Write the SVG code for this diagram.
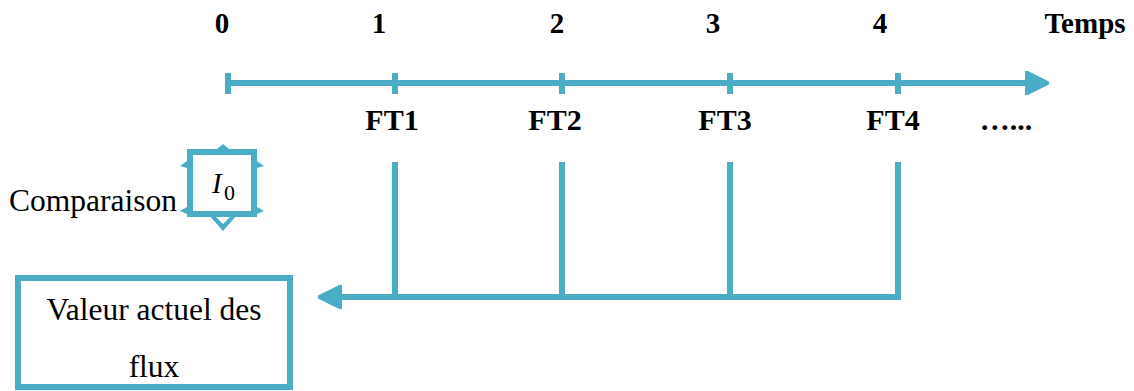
<svg xmlns="http://www.w3.org/2000/svg" width="1134" height="391" viewBox="0 0 1134 391">
  <style>
    .ln { stroke: #4BACC6; stroke-width: 6; fill: none; }
    .fill { fill: #4BACC6; stroke: none; }
  </style>
  <defs>
    <marker id="arr" viewBox="0 0 10 10" refX="2" refY="5" markerWidth="4" markerHeight="4" orient="auto" markerUnits="strokeWidth">
      <path d="M0,0 L10,5 L0,10 z" fill="#4BACC6" stroke="#4BACC6" stroke-linejoin="round" stroke-width="1"/>
    </marker>
  </defs>

  <!-- time scale labels -->
  <g id="time-labels" font-family="'Liberation Serif', 'Times New Roman', serif" font-size="29" font-weight="bold" fill="#000" text-anchor="middle">
    <text x="222" y="33">0</text>
    <text x="379" y="33">1</text>
    <text x="557" y="33">2</text>
    <text x="713" y="33">3</text>
    <text x="880" y="33">4</text>
    <text x="1085" y="33">Temps</text>
  </g>

  <g id="flow-labels" font-family="'Liberation Serif', 'Times New Roman', serif" font-size="30" font-weight="bold" fill="#000" text-anchor="middle">
    <text x="392" y="130">FT1</text>
    <text x="555" y="130">FT2</text>
    <text x="725" y="130">FT3</text>
    <text x="893" y="130">FT4</text>
    <text x="1006" y="130">…...</text>
  </g>

  <!-- connectors -->
  <g id="connectors">
    <!-- time axis -->
    <line class="ln" x1="228" y1="83" x2="1030" y2="83" marker-end="url(#arr)"/>
    <line class="ln" x1="228" y1="73" x2="228" y2="94"/>
    <line class="ln" x1="395" y1="73" x2="395" y2="94"/>
    <line class="ln" x1="562" y1="73" x2="562" y2="94"/>
    <line class="ln" x1="730" y1="73" x2="730" y2="94"/>
    <line class="ln" x1="898" y1="73" x2="898" y2="94"/>
    <!-- discounting lines -->
    <line class="ln" x1="395" y1="162" x2="395" y2="297"/>
    <line class="ln" x1="562" y1="162" x2="562" y2="297"/>
    <line class="ln" x1="730" y1="162" x2="730" y2="297"/>
    <line class="ln" x1="898" y1="162" x2="898" y2="300"/>
    <line class="ln" x1="898" y1="297" x2="337" y2="297" marker-end="url(#arr)"/>
  </g>

  <!-- initial investment -->
  <g id="node-i0">
    <rect class="ln" x="190" y="152" width="64" height="62"/>
    <path class="fill" d="M187,161 L180,166 L187,168 z"/>
    <path class="fill" d="M187,207 L180,211 L187,214 z"/>
    <path class="fill" d="M257,161 L264,166 L257,168 z"/>
    <path class="fill" d="M257,207 L264,211 L257,214 z"/>
    <path class="fill" d="M217,149 L223,144 L229,149 z"/>
    <path class="fill" d="M208,214 L238,214 L223,231 z"/>
    <path d="M216,217 L230,217 L223,224 z" fill="#fff"/>
    <text x="212" y="193" font-family="'Liberation Serif', 'Times New Roman', serif" font-style="italic" font-size="29" fill="#000">I</text>
    <text x="224" y="200" font-family="'Liberation Serif', 'Times New Roman', serif" font-size="22" fill="#000">0</text>
  </g>

  <g id="comparaison">
    <text x="9" y="211" font-family="'Liberation Serif', 'Times New Roman', serif" font-size="31.5" fill="#000">Comparaison</text>
  </g>

  <!-- present value box -->
  <g id="node-valeur" font-family="'Liberation Serif', 'Times New Roman', serif" font-size="31.5" fill="#000" text-anchor="middle">
    <rect class="ln" x="18" y="278" width="272" height="109"/>
    <text x="154" y="320">Valeur actuel des</text>
    <text x="154" y="377">flux</text>
  </g>
</svg>
